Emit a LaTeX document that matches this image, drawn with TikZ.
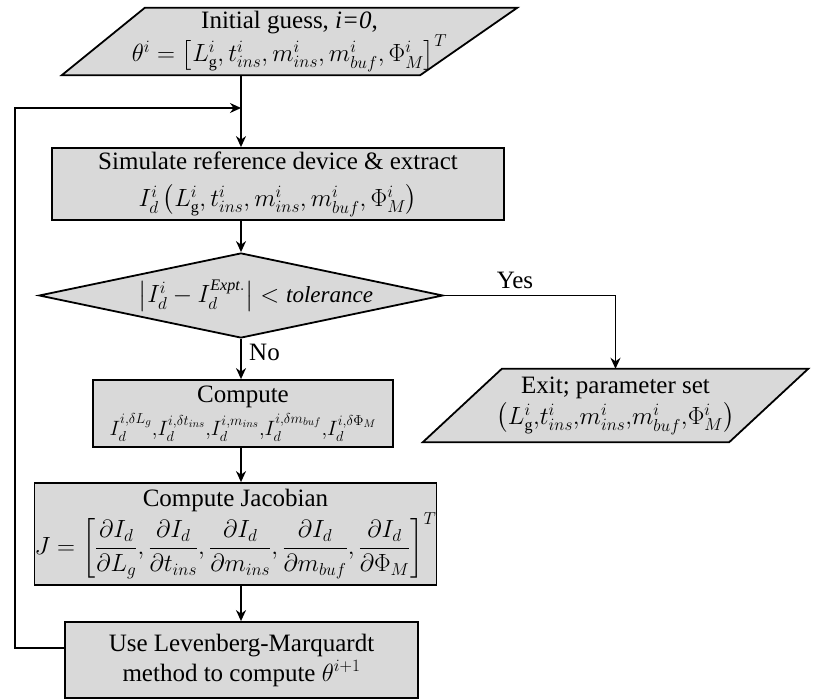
\documentclass[tikz,border=0pt]{standalone}
\usepackage{amsmath}
\usepackage{fontspec}
\setmainfont{Liberation Serif}
\usetikzlibrary{shapes.geometric,arrows.meta,backgrounds}

\definecolor{boxgray}{HTML}{D9D9D9}
\newcommand\chartfont{\fontsize{25}{30}\selectfont}
\newcommand\eqsize[1]{\fontsize{#1}{30}\selectfont}

\tikzset{
  outline/.style={draw=black, line width=1.8pt, fill=boxgray, line join=miter},
  procbox/.style={outline, rectangle, inner sep=0pt, align=center, font=\chartfont},
  holder/.style={rectangle, inner sep=0pt, align=center, font=\chartfont},
  decision/.style={outline, diamond, inner sep=0pt},
  flow/.style={line width=1.6pt, -{Stealth[length=11pt,width=10pt]}},
  caption/.style={font=\chartfont, inner sep=0pt},
}

\begin{document}
\begin{tikzpicture}[x=1pt,y=-1pt]
  \useasboundingbox (0,0) rectangle (814,700);

  % input: initial parameter guess
  \node[holder, minimum width=455, minimum height=67] (init) at (289.5,41.5)
    {Initial guess, \textit{i=0},\\[0pt]
     \eqsize{23}$\theta^{i}=\left[L_{\mathrm{g}}^{i},t_{ins}^{i},m_{ins}^{i},m_{buf}^{i},\Phi_{M}^{i}\right]^{T}$};

  % device simulation
  \node[procbox, minimum width=452, minimum height=72] (sim) at (278,184)
    {Simulate reference device \& extract\\[7pt]
     \eqsize{23}$I_{d}^{i}\left(L_{\mathrm{g}}^{i},t_{ins}^{i},m_{ins}^{i},m_{buf}^{i},\Phi_{M}^{i}\right)$};

  % convergence test
  \node[decision, minimum width=404, minimum height=85] (diam) at (241,295.5) {};
  \node[caption, font=\eqsize{23}] (test) at ([xshift=15pt]diam.center)
    {$\left|I_{d}^{i}-I_{d}^{\mathit{Expt.}}\right|<\mathit{tolerance}$};

  % perturbed currents
  \node[procbox, minimum width=300, minimum height=67] (comp) at (243,413.5)
    {Compute\\[3pt]
     \eqsize{22}$I_{d}^{i,\delta L_{g}}{,}I_{d}^{i,\delta t_{ins}}{,}I_{d}^{i,m_{ins}}{,}I_{d}^{i,\delta m_{buf}}{,}I_{d}^{i,\delta\Phi_{M}}$};

  % Jacobian
  \node[procbox, minimum width=385, minimum height=102] (jac) at (235.5,534)
    {Compute Jacobian\\[0pt]
     $J=\left[\dfrac{\partial I_{d}}{\partial L_{g}},\dfrac{\partial I_{d}}{\partial t_{ins}},\dfrac{\partial I_{d}}{\partial m_{ins}},\dfrac{\partial I_{d}}{\partial m_{buf}},\dfrac{\partial I_{d}}{\partial\Phi_{M}}\right]^{T}$};

  % parameter update
  \node[procbox, minimum width=353, minimum height=76] (lm) at (241.5,660)
    {Use Levenberg-Marquardt\\ method to compute $\theta^{i+1}$};

  % output: converged parameter set
  \node[holder, minimum width=385, minimum height=73] (exit) at (615.5,405.5)
    {Exit; parameter set\\[1pt]
     \eqsize{23}$\left(L_{\mathrm{g}}^{i}{,}t_{ins}^{i}{,}m_{ins}^{i}{,}m_{buf}^{i}{,}\Phi_{M}^{i}\right)$};

  % parallelogram outlines behind the input/output texts
  \begin{scope}[on background layer]
    \draw[outline] ([xshift=83pt]init.north west) -- (init.north east)
      -- ([xshift=-97pt]init.south east) -- (init.south west) -- cycle;
    \draw[outline] ([xshift=79pt]exit.north west) -- (exit.north east)
      -- ([xshift=-79pt]exit.south east) -- (exit.south west) -- cycle;
  \end{scope}

  % main flow
  \coordinate (merge) at (diam.north |- 0,108);
  \draw[flow] (diam.north |- init.south) -- (diam.north |- sim.north);
  \draw[flow] (diam.north |- sim.south) -- (diam.north);
  \draw[flow] (diam.south) -- (diam.south |- comp.north);
  \draw[flow] (diam.south |- comp.south) -- (diam.south |- jac.north);
  \draw[flow] (diam.south |- jac.south) -- (diam.south |- lm.north);

  % iteration loop back to the simulation step
  \coordinate (loopcorner) at (15,648);
  \draw[flow] ([yshift=12pt]lm.west) -- (loopcorner) -- (loopcorner |- merge) -- (merge);

  % exit branch
  \draw[flow] (diam.east) -- (exit.north |- diam.east) -- (exit.north);
  \node[caption] (yes) at (515,280) {Yes};
  \node[caption, anchor=west] (no) at (249,352) {No};
\end{tikzpicture}
\end{document}
